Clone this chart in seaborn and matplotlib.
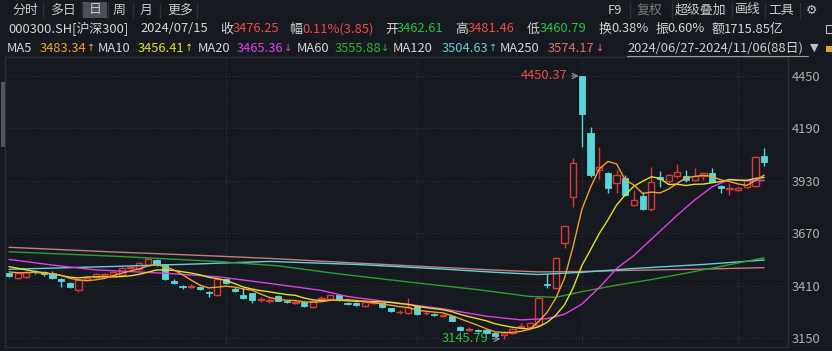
import numpy as np
import pandas as pd
import matplotlib
matplotlib.use("Agg")
import matplotlib.pyplot as plt
from matplotlib.patches import Rectangle
import seaborn as sns

# ---------------- data ----------------
opens = [3471, 3446, 3455, 3482, 3476, 3471, 3443, 3424, 3388, 3440,
         3455, 3462, 3462.61, 3464, 3495, 3490, 3512, 3537, 3515, 3434,
         3408, 3403, 3405, 3380, 3363, 3444, 3393, 3364, 3372, 3339,
         3332, 3359, 3332, 3326, 3330, 3305, 3343, 3345, 3364, 3324,
         3325, 3308, 3324, 3322, 3297, 3277, 3272, 3310, 3272, 3267,
         3259, 3261, 3206, 3190, 3188, 3190, 3173, 3165, 3173, 3207,
         3205, 3215, 3417, 3400, 3620, 3851, 4450.37, 4169, 3982, 3971,
         3918, 3943, 3812, 3855, 3788, 3951, 3928, 3954, 3955, 3934,
         3955, 3971, 3905, 3888, 3885, 3898, 3903, 4053]
highs = [3475, 3474, 3482, 3486, 3481, 3480, 3446, 3428, 3442, 3452,
         3472, 3474, 3481.46, 3500, 3510, 3525, 3545, 3540, 3518, 3445,
         3415, 3416, 3410, 3384, 3445, 3448, 3405, 3397, 3375, 3355,
         3347, 3362, 3340, 3338, 3333, 3338, 3358, 3364, 3368, 3330,
         3330, 3333, 3335, 3326, 3300, 3288, 3347, 3312, 3282, 3272,
         3268, 3264, 3210, 3205, 3194, 3193, 3178, 3185, 3200, 3225,
         3228, 3355, 3470, 3550, 3710, 4042, 4450.37, 4196, 4099, 3975,
         3984, 3959, 3885, 3875, 4000, 3980, 3965, 4012, 3985, 3992,
         3970, 3992, 3910, 3918, 3900, 3935, 4055, 4091]
lows = [3455, 3443, 3448, 3470, 3460, 3443, 3403, 3400, 3378, 3434,
        3450, 3458, 3460.79, 3460, 3490, 3485, 3508, 3505, 3438, 3416,
        3391, 3396, 3388, 3355, 3360, 3420, 3380, 3345, 3322, 3330,
        3326, 3333, 3322, 3318, 3305, 3300, 3338, 3340, 3335, 3314,
        3308, 3304, 3318, 3300, 3280, 3270, 3268, 3264, 3265, 3258,
        3254, 3232, 3186, 3184, 3178, 3170, 3156, 3145.79, 3168, 3198,
        3195, 3205, 3400, 3395, 3595, 3801, 4099, 3950, 3941, 3868,
        3868, 3855, 3805, 3785, 3780, 3901, 3918, 3945, 3922, 3928,
        3935, 3922, 3868, 3862, 3878, 3892, 3898, 4003]
closes = [3458, 3471, 3479, 3476, 3469, 3446, 3435, 3405, 3438, 3448,
          3468, 3470, 3476.25, 3497, 3503, 3520, 3540, 3515, 3441, 3421,
          3401, 3407, 3391, 3372, 3441, 3424, 3385, 3347, 3339, 3345,
          3340, 3336, 3328, 3330, 3310, 3335, 3348, 3361, 3339, 3320,
          3313, 3330, 3328, 3305, 3285, 3281, 3305, 3267, 3276, 3263,
          3262, 3235, 3190, 3194, 3185, 3173, 3160, 3176, 3195, 3212,
          3222, 3349, 3412, 3545, 3705, 4020, 4260, 3959, 3998, 3893,
          3959, 3860, 3835, 3790, 3926, 3938, 3958, 3975, 3932, 3955,
          3968, 3926, 3893, 3892, 3893, 3932, 4050, 4025]

# moving-average values before enough candles exist in the window
ma5_head = [3478, 3474, 3474, 3476]
ma10_head = [3504, 3496, 3488, 3480, 3474, 3468, 3460, 3452, 3448]

# slow moving averages at candle positions
ma20_idx = [0, 5, 10, 18, 24, 30, 36, 39, 44, 50, 55, 59, 62, 64, 66, 68, 70, 72, 74, 77, 79, 81, 83, 85, 87]
ma20_val = [3540, 3512, 3488, 3471, 3454, 3421, 3386, 3356, 3328, 3295, 3258, 3240, 3246, 3268, 3318, 3400, 3495, 3560, 3640, 3760, 3835, 3900, 3936, 3930, 3932]
ma60_idx = [0, 12, 24, 31, 38, 46, 54, 60, 63, 66, 70, 74, 78, 82, 87]
ma60_val = [3578, 3556, 3530, 3508, 3468, 3428, 3390, 3356, 3352, 3380, 3412, 3440, 3472, 3505, 3548]
ma120_idx = [0, 12, 22, 30, 40, 50, 56, 61, 66, 72, 80, 87]
ma120_val = [3491, 3505, 3518, 3530, 3515, 3492, 3476, 3465, 3476, 3495, 3515, 3537]
ma250_idx = [0, 12, 22, 30, 40, 50, 56, 61, 66, 72, 80, 87]
ma250_val = [3600, 3577, 3560, 3545, 3522, 3500, 3487, 3478, 3480, 3486, 3492, 3499]

yticks = [3150, 3410, 3670, 3930, 4190, 4450]
month_starts = [25, 47, 66, 84]

# ---------------- style ----------------
BG = "#16191f"
RED = "#d83a3a"
CYAN = "#58d6da"
RED_T = "#f04a4a"
GREEN_T = "#2fbf4a"
ORANGE = "#f2a130"
YELLOW = "#e4e02c"
MAGENTA = "#e040e6"
GREEN = "#2e9e34"
CYAN_L = "#68cfd8"
PINK = "#e07070"
PINK_L = "#c08080"
TXT = "#d6d6d6"
GRID = "#30343c"

sns.set_theme(style="dark")
plt.rcParams["font.family"] = ["Noto Sans CJK SC", "DejaVu Sans"]

W, H = 832, 351
fig = plt.figure(figsize=(W / 100, H / 100), dpi=100, facecolor=BG)

def px(x0, y0):
    return x0 / W, 1 - y0 / H

AX_L, AX_R, AX_T, AX_B = 5, 788, 57, 347
ax = fig.add_axes([AX_L / W, 1 - AX_B / H, (AX_R - AX_L) / W, (AX_B - AX_T) / H])
ax.set_facecolor(BG)

def v_at(ypix):
    return 3150 + (338 - ypix) * 4.962

def i_at(xpix):
    return (xpix - 9) / 8.68

ax.set_ylim(v_at(AX_B), v_at(AX_T))
ax.set_xlim(i_at(AX_L), i_at(AX_R))

# grid
for t in yticks:
    ax.axhline(t, color=GRID, lw=0.8, ls=(0, (1, 2)), zorder=1)
for m in month_starts:
    ax.axvline(m, color=GRID, lw=0.8, ls=(0, (1, 2)), zorder=1)

# candles
idx = np.arange(len(closes))
o = np.array(opens, float); c = np.array(closes, float)
h = np.array(highs, float); l = np.array(lows, float)
up = c >= o
lo = np.minimum(o, c)
bh = np.maximum(np.abs(c - o), 2.5)
ax.vlines(idx[up], l[up], h[up], color=RED, lw=1.0, zorder=3)
ax.vlines(idx[~up], l[~up], h[~up], color=CYAN, lw=1.0, zorder=3)
ax.bar(idx[up], bh[up], bottom=lo[up], width=0.72, facecolor=BG, edgecolor=RED, linewidth=1.0, zorder=4)
ax.bar(idx[~up], bh[~up], bottom=lo[~up], width=0.72, facecolor=CYAN, edgecolor=CYAN, linewidth=0.6, zorder=4)

# moving averages
cs = pd.Series(c)
ma5 = cs.rolling(5).mean().to_numpy()
ma5[:4] = ma5_head
ma10 = cs.rolling(10).mean().to_numpy()
ma10[:9] = ma10_head

def line(xs, ys, col, lw=1.0):
    sns.lineplot(x=list(xs), y=list(ys), ax=ax, color=col, linewidth=lw,
                 estimator=None, sort=False, legend=False, zorder=5)

line(ma250_idx, ma250_val, PINK_L)
line(ma120_idx, ma120_val, CYAN_L)
line(ma60_idx, ma60_val, GREEN)
line(ma20_idx, ma20_val, MAGENTA)
line(idx, ma10, YELLOW)
line(idx, ma5, ORANGE)

# extreme annotations
ax.annotate("4450.37", xy=(65.62, 4450.37), xytext=(i_at(567), 4450.37),
            ha="right", va="center", color=RED_T, fontsize=9.3,
            arrowprops=dict(arrowstyle="->", color="#9a9a9a", lw=0.8, shrinkA=1, shrinkB=0),
            zorder=6)
ax.annotate("3145.79", xy=(56.62, 3145.79), xytext=(i_at(488), 3145.79),
            ha="right", va="center", color=GREEN_T, fontsize=9.3,
            arrowprops=dict(arrowstyle="->", color="#9a9a9a", lw=0.8, shrinkA=1, shrinkB=0),
            zorder=6)

# axes cosmetics
ax.set_xlabel(""); ax.set_ylabel("")
ax.set_xticks([])
ax.yaxis.tick_right()
ax.set_yticks(yticks)
ax.set_yticklabels([str(t) for t in yticks])
ax.tick_params(axis="y", length=0, pad=3, labelsize=9.3, labelcolor="#aeaeae")
ax.grid(False)
for s in ax.spines.values():
    s.set_visible(True)
    s.set_color("#2a2e36")
    s.set_linewidth(1.0)

# ---------------- header text ----------------
FS = 9.3

def put(x0, y0, s, col=TXT, fs=FS, **kw):
    fig.text(*px(x0, y0), s, color=col, fontsize=fs, ha="left", va="center", **kw)

# tab row
fig.patches.append(Rectangle(px(82, 18), 25 / W, 16 / H, transform=fig.transFigure,
                             facecolor="#4a4f59", edgecolor="none", zorder=0))
for xs in [43, 82, 108, 133, 160, 197, 630, 672, 732, 765, 800]:
    fig.lines.append(plt.Line2D([xs / W, xs / W], [1 - 3 / H, 1 - 18 / H],
                                transform=fig.transFigure, color="#2c3039", lw=1))
for x0, s in [(12, "分时"), (50, "多日"), (89, "日"), (113, "周"), (140, "月"), (167, "更多")]:
    put(x0, 10, s, "#c9c9c9")
put(608, 10, "F9", "#c9c9c9")
put(637, 10, "复权", "#7c7c7c")
put(675, 10, "超级叠加", "#c9c9c9")
put(735, 10, "画线", "#c9c9c9")
put(768, 10, "工具", "#c9c9c9")
put(806, 10, "⚙", "#c9c9c9", family=["DejaVu Sans"])

# info row
y1 = 29
put(8, y1, "000300.SH[沪深300]")
put(140, y1, "2024/07/15")
put(220, y1, "收"); put(233, y1, "3476.25", RED_T)
put(289, y1, "幅"); put(302, y1, "0.11%(3.85)", RED_T)
put(385, y1, "开"); put(397, y1, "3462.61", GREEN_T)
put(455, y1, "高"); put(468, y1, "3481.46", RED_T)
put(527, y1, "低"); put(540, y1, "3460.79", GREEN_T)
put(599, y1, "换"); put(611, y1, "0.38%")
put(655, y1, "振"); put(667, y1, "0.60%")
put(712, y1, "额"); put(724, y1, "1715.85亿")

# MA row (values, then a narrow arrow glyph)
y2 = 48
ma_row = [(7, "MA5", 40, "3483.34", 87, "↑", ORANGE),
          (98, "MA10", 138, "3456.41", 185, "↑", YELLOW),
          (198, "MA20", 237, "3465.36", 284, "↓", MAGENTA),
          (297, "MA60", 335, "3555.88", 381, "↓", "#33b03a"),
          (393, "MA120", 442, "3504.63", 489, "↑", CYAN_L),
          (500, "MA250", 548, "3574.17", 596, "↓", PINK)]
for xn, name, xv, val, xa, arr, col in ma_row:
    put(xn, y2, name)
    put(xv, y2, val, col)
    put(xa, y2, arr, col, fs=7, family=["DejaVu Sans"])
put(627, y2, "2024/06/27-2024/11/06(88日)", "#cfcfcf")
fig.lines.append(plt.Line2D([627 / W, 808 / W], [1 - 56 / H, 1 - 56 / H],
                            transform=fig.transFigure, color="#9a9a9a", lw=0.8))
put(810, y2, "▼", "#bdbdbd", fs=8, family=["DejaVu Sans"])
fig.patches.append(Rectangle(px(826, 52), 6 / W, 6 / H, transform=fig.transFigure,
                             facecolor="#e8a030", edgecolor="none"))
fig.patches.append(Rectangle(px(826, 33), 6 / W, 8 / H, transform=fig.transFigure,
                             facecolor="none", edgecolor="#bdbdbd", lw=0.8))

# scroll indicator at the left edge
fig.patches.append(Rectangle(px(1, 147), 4 / W, 65 / H, transform=fig.transFigure,
                             facecolor="#50555e", edgecolor="none"))

fig.savefig("out.png", dpi=100, facecolor=BG)
